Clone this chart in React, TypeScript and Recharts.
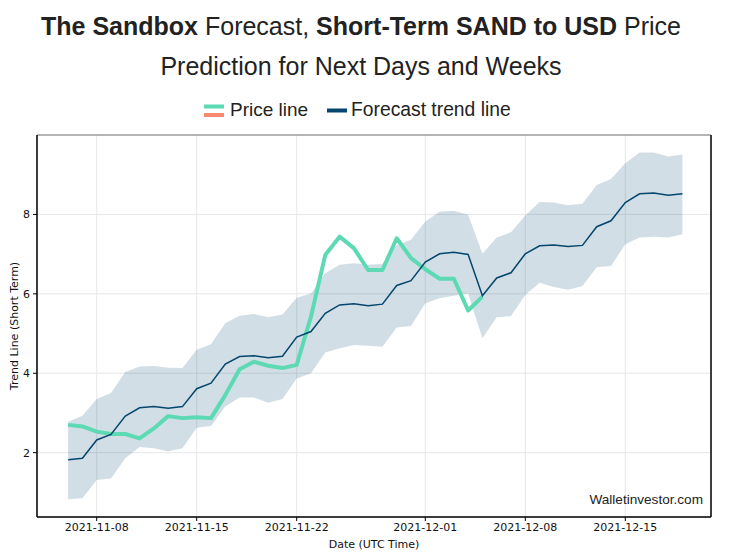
import React from 'react';
import { ComposedChart, Area, Line, XAxis, YAxis, CartesianGrid, ReferenceLine } from 'recharts';

const startDate = '2021-11-06';
const priceValues = [2.70, 2.66, 2.53, 2.47, 2.47, 2.36, 2.61, 2.92, 2.87, 2.89, 2.87, 3.45, 4.10, 4.29, 4.19, 4.13, 4.21, 5.43, 6.98, 7.44, 7.15, 6.60, 6.60, 7.40, 6.90, 6.62, 6.38, 6.38, 5.58, 5.93];
const trendValues = [1.82, 1.86, 2.32, 2.46, 2.92, 3.13, 3.16, 3.12, 3.16, 3.61, 3.75, 4.23, 4.42, 4.44, 4.39, 4.43, 4.91, 5.05, 5.51, 5.72, 5.75, 5.70, 5.74, 6.21, 6.33, 6.80, 7.01, 7.05, 6.99, 5.95, 6.40, 6.53, 7.01, 7.21, 7.23, 7.19, 7.22, 7.69, 7.84, 8.30, 8.52, 8.54, 8.48, 8.52];
const upperValues = [2.78, 2.93, 3.35, 3.50, 4.03, 4.17, 4.18, 4.14, 4.13, 4.59, 4.73, 5.26, 5.45, 5.49, 5.41, 5.48, 5.90, 6.01, 6.52, 6.73, 6.77, 6.73, 6.75, 7.23, 7.36, 7.82, 8.07, 8.09, 7.99, 7.01, 7.42, 7.55, 7.97, 8.31, 8.30, 8.23, 8.27, 8.74, 8.89, 9.29, 9.56, 9.56, 9.46, 9.51];
const lowerValues = [0.83, 0.85, 1.31, 1.35, 1.86, 2.14, 2.11, 2.03, 2.11, 2.63, 2.67, 3.16, 3.39, 3.39, 3.26, 3.35, 3.87, 4.00, 4.52, 4.63, 4.71, 4.69, 4.67, 5.15, 5.19, 5.76, 5.89, 5.95, 6.01, 4.88, 5.41, 5.44, 5.97, 6.28, 6.17, 6.10, 6.20, 6.67, 6.70, 7.25, 7.42, 7.44, 7.42, 7.50];
const xTickLabels = ['2021-11-08', '2021-11-15', '2021-11-22', '2021-12-01', '2021-12-08', '2021-12-15'];
const yTicks = [2, 4, 6, 8];

const DAY = 86400000;
const dayOf = (d: string) => Math.round((Date.parse(d) - Date.parse(startDate)) / DAY);
const xTicks = xTickLabels.map(dayOf);
const labelByDay: Record<number, string> = {};
xTickLabels.forEach((l) => { labelByDay[dayOf(l)] = l; });

const data = trendValues.map((t, i) => ({
  day: i,
  trend: t,
  band: [lowerValues[i], upperValues[i]],
  price: i < priceValues.length ? priceValues[i] : null,
}));

const tickStyle = { fill: '#111', fontSize: 11, fontFamily: 'DejaVu Sans' };

export default function App() {
  return (
    <div style={{ position: 'absolute', left: 0, top: 0, width: 749, height: 560, background: '#fff' }}>
      <ComposedChart width={749} height={560} data={data} margin={{ top: 135, right: 38, bottom: 13, left: 7 }}>
        <CartesianGrid stroke="#e4e6e8" strokeWidth={1} />
        <XAxis
          dataKey="day"
          type="number"
          domain={[-2.18, 45.0]}
          ticks={xTicks}
          tickFormatter={(v: number) => labelByDay[v] ?? ''}
          allowDataOverflow
          height={30}
          tickSize={4}
          tickMargin={2}
          axisLine={{ stroke: '#000', strokeWidth: 1.5 }}
          tickLine={{ stroke: '#000' }}
          tick={tickStyle}
        />
        <YAxis
          type="number"
          domain={[0.38, 10]}
          ticks={yTicks}
          allowDataOverflow
          width={30}
          tickSize={4}
          tickMargin={3}
          axisLine={{ stroke: '#000', strokeWidth: 1.5 }}
          tickLine={{ stroke: '#000' }}
          tick={tickStyle}
        />
        <ReferenceLine y={10} stroke="#777" strokeWidth={1} />
        <ReferenceLine x={45.0} stroke="#000" strokeWidth={1.5} />
        <Area dataKey="band" type="linear" stroke="none" fill="#1f5a7d" fillOpacity={0.2} isAnimationActive={false} />
        <Line dataKey="price" type="linear" stroke="#5ddab4" strokeWidth={4} dot={false} isAnimationActive={false} strokeLinejoin="round" />
        <Line dataKey="trend" type="linear" stroke="#04466e" strokeWidth={1.5} dot={false} isAnimationActive={false} />
      </ComposedChart>
      <svg width={749} height={560} style={{ position: 'absolute', left: 0, top: 0, pointerEvents: 'none' }}>
        <g fontFamily="Liberation Sans, Arial, sans-serif" fill="#222">
          <text x={361} y={35} fontSize={25} textAnchor="middle">
            <tspan fontWeight="bold">The Sandbox</tspan>
            <tspan> Forecast, </tspan>
            <tspan fontWeight="bold">Short-Term SAND to USD</tspan>
            <tspan> Price</tspan>
          </text>
          <text x={361} y={74.5} fontSize={25} textAnchor="middle">Prediction for Next Days and Weeks</text>
          <rect x={204} y={104.5} width={20} height={4} fill="#5ddab4" />
          <rect x={204} y={113} width={20} height={4} fill="#f78a6e" />
          <text x={230} y={116} fontSize={19}>Price line</text>
          <rect x={327} y={108.5} width={20} height={4} fill="#04466e" />
          <text x={351} y={116} fontSize={19.3}>Forecast trend line</text>
          <text x={703} y={504} fontSize={13.6} textAnchor="end">Walletinvestor.com</text>
        </g>
        <g fontFamily="DejaVu Sans" fill="#111" fontSize={11}>
          <text x={374} y={548} textAnchor="middle">Date (UTC Time)</text>
          <text x={18} y={326} textAnchor="middle" transform="rotate(-90 18 326)">Trend Line (Short Term)</text>
        </g>
      </svg>
    </div>
  );
}
